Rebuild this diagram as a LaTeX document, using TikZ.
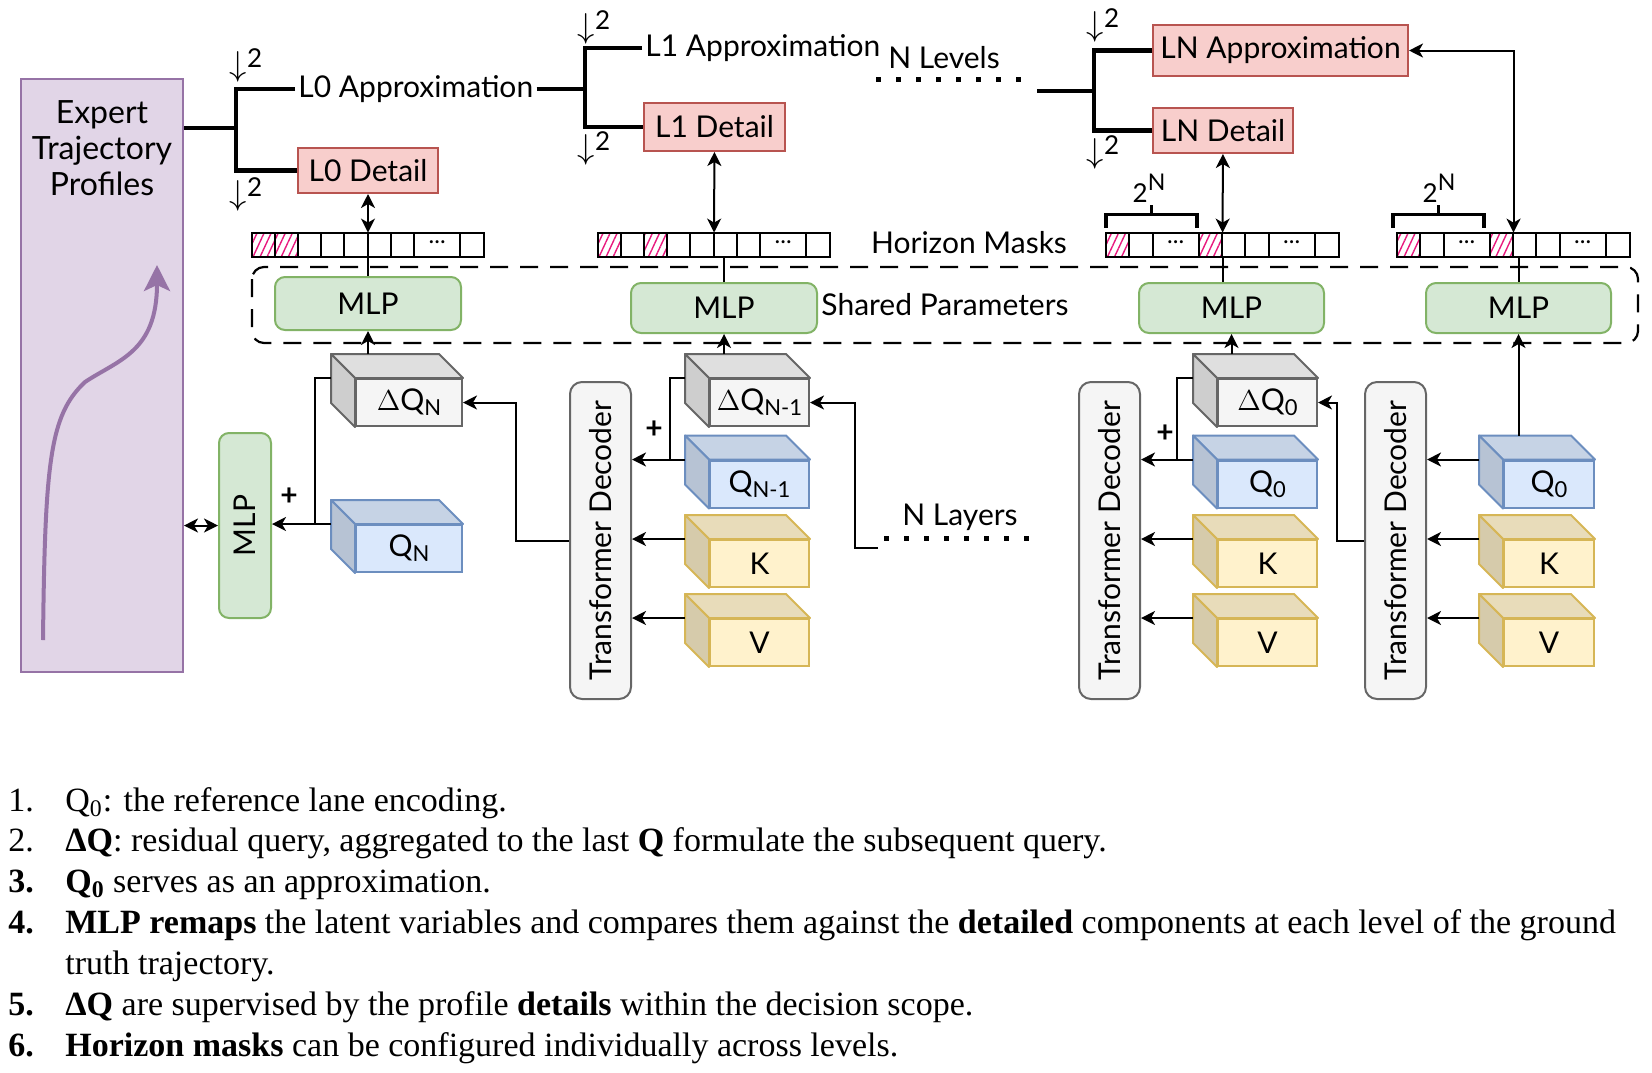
\documentclass[tikz,border=0pt]{standalone}
\usepackage{fontspec}
\setmainfont{Liberation Serif}
\newfontfamily\diafont{Lato}
\usetikzlibrary{arrows.meta,calc,patterns.meta,positioning}

\definecolor{purpfill}{HTML}{E1D5E7}
\definecolor{purpline}{HTML}{9673A6}
\definecolor{redfill}{HTML}{F8CECC}
\definecolor{redline}{HTML}{B85450}
\definecolor{greenfill}{HTML}{D5E8D4}
\definecolor{greenline}{HTML}{82B366}
\definecolor{bluefill}{HTML}{DAE8FC}
\definecolor{blueline}{HTML}{6C8EBF}
\definecolor{yelfill}{HTML}{FFF2CC}
\definecolor{yelline}{HTML}{D6B656}
\definecolor{grayfill}{HTML}{F5F5F5}
\definecolor{grayline}{HTML}{666666}
\definecolor{hatchpink}{HTML}{E8197E}

\newcommand{\lowsub}[1]{\raisebox{-2.5pt}{\fontsize{11}{11}\selectfont #1}}
\newcommand{\downtwo}{{\fontsize{19}{19}\selectfont$\downarrow$}\raisebox{4pt}{\fontsize{13}{13}\selectfont 2}}
\newcommand{\twoN}{\fontsize{13}{13}\selectfont 2\raisebox{6pt}{\fontsize{11.5}{11.5}\selectfont N}}

% top and left faces of a box node
\newcommand{\cubesides}[3]{%
  \filldraw[draw=#3, fill=#2!91!black, line width=1pt, line join=round]
    (#1.north west) -- ++(-12pt,12pt) -- ($(#1.north east)+(-12pt,12pt)$)
    -- (#1.north east) -- cycle;
  \filldraw[draw=#3, fill=#2!84!black, line width=1pt, line join=round]
    (#1.north west) -- ++(-12pt,12pt) -- ($(#1.south west)+(-12pt,12pt)$)
    -- (#1.south west) -- cycle;
  \coordinate (#1-l) at ($(#1.north west)+(-12pt,0)$);
  \coordinate (#1-t) at ($(#1.north)+(0,12pt)$);
}

% name, centre x, dividers, hatched cells, dotted cells
\newcommand{\maskrow}[5]{%
  \node[maskbar] (#1) at (#2,245) {};
  \foreach \h in {#4}
    \fill[pattern={Lines[angle=65,distance=3.2pt,line width=0.7pt]}, pattern color=hatchpink]
      ($(#1.south west)+(\h*11.6pt,0)$) rectangle ++(11.6pt,12pt);
  \foreach \d in {#3}
    \draw[line width=1pt] ($(#1.south west)+(\d*11.6pt,0)$) -- ++(0,12pt);
  \foreach \c in {#5}
    \node[font=\diafont\fontsize{12}{12}\selectfont, inner sep=0pt] (#1-dots\c)
      at ($(#1.west)+(\c*11.6pt,1.5pt)$) {...};
  \draw[line width=1pt] (#1.south west) rectangle (#1.north east);
}

\begin{document}
\begin{tikzpicture}[x=0.5pt,y=-0.5pt,
  >={Stealth[length=7pt,width=7pt,inset=2pt]},
  every node/.style={font=\diafont\fontsize{15}{18}\selectfont},
  lbl/.style={inner xsep=1.5pt, inner ysep=0pt},
  conn/.style={line width=1pt},
  treeline/.style={line width=2.2pt},
  dotline/.style={line width=2.5pt, dash pattern=on 2.5pt off 7.5pt},
  brk/.style={line width=1.8pt},
  expbox/.style={draw=purpline, fill=purpfill, line width=1pt, minimum width=81pt, minimum height=296.5pt},
  detailbox/.style={draw=redline, fill=redfill, line width=1pt, inner sep=0pt},
  maskbar/.style={minimum width=116pt, minimum height=12pt, inner sep=0pt},
  mlpbox/.style={draw=greenline, fill=greenfill, rounded corners=5pt, line width=1pt, inner sep=0pt},
  tdbox/.style={draw=grayline, fill=grayfill, rounded corners=6pt, line width=1pt,
    minimum width=30.5pt, minimum height=158.5pt, inner sep=0pt},
  cubebox/.style={line width=1pt, minimum height=23.5pt, inner sep=0pt},
  dq/.style={cubebox, draw=grayline, fill=grayfill},
  qb/.style={cubebox, draw=blueline, fill=bluefill},
  kv/.style={cubebox, draw=yelline, fill=yelfill},
  itemtxt/.style={font=\rmfamily\fontsize{17}{20}\selectfont, inner sep=0pt, anchor=base west}]
  \useasboundingbox (0,0) rectangle (1652,1072);

  % expert profiles
  \node[expbox] (expert) at (102,375.5) {};
  \node[align=center, font=\diafont\fontsize{16}{18}\selectfont] (explbl) at (102,148) {Expert\\Trajectory\\Profiles};
  \draw[purpline, line width=2pt, -{Stealth[length=13pt,width=13pt,inset=3pt]}]
    (43,640) .. controls (45,460) and (50,415) .. (85,382)
    .. controls (118,360) and (157,352) .. (157,265);

  % level 0
  \coordinate (split0) at (236,128);
  \node[lbl, anchor=west] (l0a) at (295,89) {L0 Approximation};
  \node[detailbox, minimum width=70pt, minimum height=22.5pt] (l0d) at (368,170.5) {L0 Detail};
  \draw[treeline] (expert.east |- split0) -- (split0);
  \draw[treeline] (l0a.west) -| (split0) |- (l0d.west);
  \node (ds0t) at (246,65) {\downtwo};
  \node (ds0b) at (246,194) {\downtwo};

  % level 1
  \coordinate (split1) at (585,89);
  \node[lbl, anchor=west] (l1a) at (642,48) {L1 Approximation};
  \node[detailbox, minimum width=70.5pt, minimum height=24pt] (l1d) at (714.5,127) {L1 Detail};
  \draw[treeline] (l0a.east) -- (split1);
  \draw[treeline] (l1a.west) -| (split1) |- (l1d.west);
  \node (ds1t) at (594,27) {\downtwo};
  \node (ds1b) at (594,148) {\downtwo};

  % N levels
  \node (nlev) at (944,58) {N Levels};
  \coordinate (lev0) at (876,79);
  \coordinate (lev1) at (1027,79);
  \draw[dotline] (lev0) -- (lev1);

  % level N
  \coordinate (stubN) at (1037,91);
  \coordinate (splitN) at (1094,91);
  \node[detailbox, minimum width=127.5pt, minimum height=25.5pt] (lna) at (1280.5,50.5) {LN Approximation};
  \node[detailbox, minimum width=70pt, minimum height=22.5pt] (lnd) at (1223,130.5) {LN Detail};
  \draw[treeline] (stubN) -- (splitN);
  \draw[treeline] (lna.west) -| (splitN) |- (lnd.west);
  \node (dsNt) at (1103,25) {\downtwo};
  \node (dsNb) at (1103,152) {\downtwo};

  % horizon masks
  \maskrow{mask0}{368}{1,2,3,4,5,6,7,9}{0,1}{8}
  \maskrow{mask1}{714}{1,2,3,4,5,6,7,9}{0,2}{8}
  \maskrow{maskNa}{1222.5}{1,2,4,5,6,7,9}{0,4}{3,8}
  \maskrow{maskNb}{1513.5}{1,2,4,5,6,7,9}{0,4}{3,8}
  \node (hmask) at (969,243) {Horizon Masks};
  \draw[brk] ($(maskNa.north west)+(0,2.5pt)$) -- ++(0,6.5pt) -- ++(45.5pt,0) -- ++(0,-6.5pt);
  \draw[brk] ($(maskNa.north west)+(22.75pt,9pt)$) -- ++(0,5pt);
  \node (pow2a) at (1149,188) {\twoN};
  \draw[brk] ($(maskNb.north west)+(-2pt,2.5pt)$) -- ++(0,6.5pt) -- ++(45.5pt,0) -- ++(0,-6.5pt);
  \draw[brk] ($(maskNb.north west)+(20.75pt,9pt)$) -- ++(0,5pt);
  \node (pow2b) at (1439,188) {\twoN};

  \path[conn,<->] (l0d) edge (mask0)
                  (l1d) edge (mask1)
                  (lnd) edge (maskNa);
  \draw[conn,<->] (lna.east) -| (maskNb.north);

  % shared MLPs
  \draw[line width=1.1pt, dash pattern=on 9pt off 6pt, rounded corners=6pt] (252,267) rectangle (1638,343);
  \node[mlpbox, minimum width=93pt, minimum height=26.5pt] (mlp0) at (368,303.5) {MLP};
  \node[mlpbox, minimum width=93pt, minimum height=25pt] (mlp1) at (724,308) {MLP};
  \node[mlpbox, minimum width=92.5pt, minimum height=25pt] (mlp2) at (1231.5,308) {MLP};
  \node[mlpbox, minimum width=92.5pt, minimum height=25pt] (mlp3) at (1518.5,308) {MLP};
  \node (shared) at (945,305) {Shared Parameters};
  \draw[conn] (mask0.south) -- (mlp0.north);
  \draw[conn] (mlp1.north) -- (mlp1.north |- mask1.south);
  \draw[conn] (maskNa.south) -- (maskNa.south |- mlp2.north);
  \draw[conn] (mlp3.north) -- (mlp3.north |- maskNb.south);

  \node[mlpbox, minimum width=26pt, minimum height=92.5pt] (mlpside) at (245,525.5) {\rotatebox{90}{MLP}};

  % decoders
  \node[tdbox] (td1) at (600.5,540.5) {\rotatebox{90}{Transformer Decoder}};
  \node[tdbox] (td2) at (1109.5,540.5) {\rotatebox{90}{Transformer Decoder}};
  \node[tdbox] (td3) at (1395.5,540.5) {\rotatebox{90}{Transformer Decoder}};

  % queries, keys, values
  \node[dq, minimum width=53pt] (dqN) at (409,402.5) {$\Delta$Q\lowsub{N}};
  \cubesides{dqN}{grayfill}{grayline}
  \node[qb, minimum width=53pt] (qN) at (409,548.5) {Q\lowsub{N}};
  \cubesides{qN}{bluefill}{blueline}

  \node[dq, minimum width=49.5pt] (dqN1) at (759.5,402.5) {$\Delta$Q\lowsub{N-1}};
  \cubesides{dqN1}{grayfill}{grayline}
  \node[qb, minimum width=49.5pt] (qN1) at (759.5,484) {Q\lowsub{N-1}};
  \cubesides{qN1}{bluefill}{blueline}
  \node[kv, minimum width=49.5pt] (kN1) at (759.5,563.5) {K};
  \cubesides{kN1}{yelfill}{yelline}
  \node[kv, minimum width=49.5pt] (vN1) at (759.5,642.5) {V};
  \cubesides{vN1}{yelfill}{yelline}

  \node[dq, minimum width=49.5pt] (dq0a) at (1267.5,402.5) {$\Delta$Q\lowsub{0}};
  \cubesides{dq0a}{grayfill}{grayline}
  \node[qb, minimum width=49.5pt] (q0a) at (1267.5,484) {Q\lowsub{0}};
  \cubesides{q0a}{bluefill}{blueline}
  \node[kv, minimum width=49.5pt] (k0a) at (1267.5,563.5) {K};
  \cubesides{k0a}{yelfill}{yelline}
  \node[kv, minimum width=49.5pt] (v0a) at (1267.5,642.5) {V};
  \cubesides{v0a}{yelfill}{yelline}

  \node[qb, minimum width=45pt] (q0b) at (1549,484) {Q\lowsub{0}};
  \cubesides{q0b}{bluefill}{blueline}
  \node[kv, minimum width=45pt] (k0b) at (1549,563.5) {K};
  \cubesides{k0b}{yelfill}{yelline}
  \node[kv, minimum width=45pt] (v0b) at (1549,642.5) {V};
  \cubesides{v0b}{yelfill}{yelline}

  % column N
  \draw[conn,->] (td1.west) -- ++(-26.5pt,0) |- (dqN.east);
  \draw[conn,->] (qN-l) -- (qN-l -| mlpside.east);
  \draw[conn] (dqN-l) -| ($(qN-l)+(-8pt,0)$);
  \draw[conn,<->] (mlpside.west) -- (mlpside.west -| expert.east);
  \draw[conn,->] (mlp0.south |- dqN-t) -- (mlp0.south);
  \node (plusN) at (289,497) {\textbf{+}};

  % column N-1
  \draw[conn,->] (qN1-l) -- (qN1-l -| td1.east);
  \draw[conn] (dqN1-l) -| ($(qN1-l)+(-7.5pt,0)$);
  \draw[conn,->] (kN1-l) -- (kN1-l -| td1.east);
  \draw[conn,->] (vN1-l) -- (vN1-l -| td1.east);
  \draw[conn,->] (mlp1.south |- dqN1-t) -- (mlp1.south);
  \node (plusN1) at (654,430) {\textbf{+}};
  \coordinate (layin) at (878,548);
  \draw[conn,->] (layin) -- ++(-11.5pt,0) |- (dqN1.east);
  \coordinate (lay0) at (884,538);
  \coordinate (lay1) at (1035,538);
  \draw[dotline] (lay0) -- (lay1);
  \node (nlay) at (960,517) {N Layers};

  % column 0
  \draw[conn,->] (q0a-l) -- (q0a-l -| td2.east);
  \draw[conn] (dq0a-l) -| ($(q0a-l)+(-8pt,0)$);
  \draw[conn,->] (k0a-l) -- (k0a-l -| td2.east);
  \draw[conn,->] (v0a-l) -- (v0a-l -| td2.east);
  \draw[conn,->] (mlp2.south |- dq0a-t) -- (mlp2.south);
  \node (plus0) at (1165,434) {\textbf{+}};
  \draw[conn,->] (td3.west) -- ++(-13.5pt,0) |- (dq0a.east);

  \draw[conn,->] (q0b-l) -- (q0b-l -| td3.east);
  \draw[conn,->] (k0b-l) -- (k0b-l -| td3.east);
  \draw[conn,->] (v0b-l) -- (v0b-l -| td3.east);
  \draw[conn,->] (mlp3.south |- q0b-t) -- (mlp3.south);

  % notes
  \node[itemtxt] (num1) at (8,811) {1.};
  \node[itemtxt] (item1) at (65,811) {Q\textsubscript{0}: the reference lane encoding.};
  \node[itemtxt] (num2) at (8,851) {2.};
  \node[itemtxt] (item2) at (65,851) {\textbf{ΔQ}: residual query, aggregated to the last \textbf{Q} formulate the subsequent query.};
  \node[itemtxt] (num3) at (8,892) {\textbf{3.}};
  \node[itemtxt] (item3) at (65,892) {\textbf{Q\textsubscript{0}} serves as an approximation.};
  \node[itemtxt] (num4) at (8,933) {\textbf{4.}};
  \node[itemtxt] (item4) at (65,933) {\textbf{MLP remaps} the latent variables and compares them against the \textbf{detailed} components at each level of the ground};
  \node[itemtxt] (item4b) at (65,974) {truth trajectory.};
  \node[itemtxt] (num5) at (8,1015) {\textbf{5.}};
  \node[itemtxt] (item5) at (65,1015) {\textbf{ΔQ} are supervised by the profile \textbf{details} within the decision scope.};
  \node[itemtxt] (num6) at (8,1056) {\textbf{6.}};
  \node[itemtxt] (item6) at (65,1056) {\textbf{Horizon masks} can be configured individually across levels.};
\end{tikzpicture}
\end{document}
